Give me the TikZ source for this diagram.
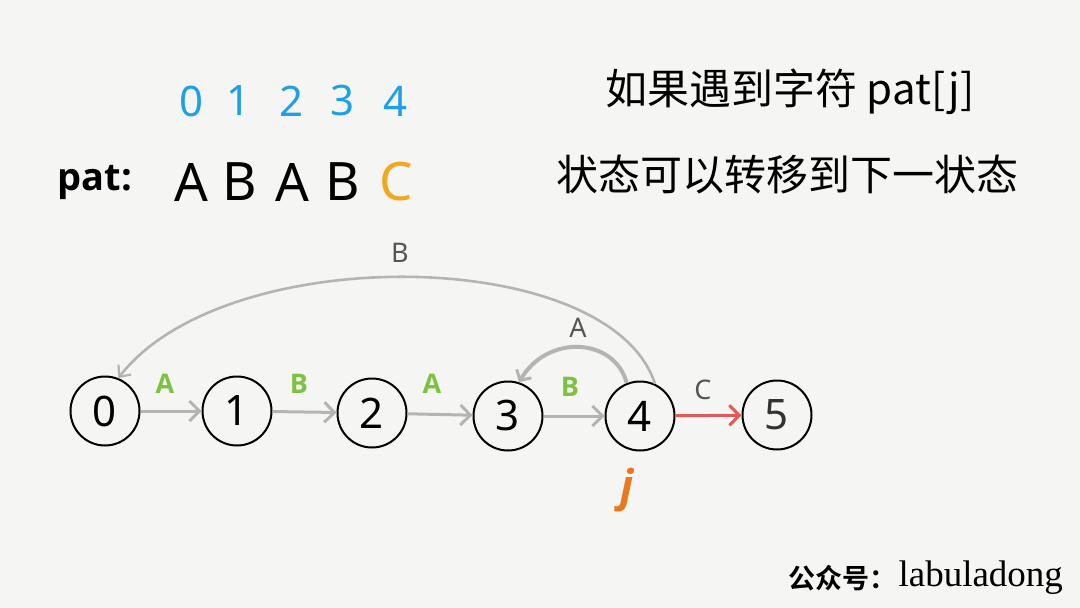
\documentclass[tikz,border=0pt]{standalone}
\usepackage{fontspec}
\setmainfont{Noto Sans}
\newfontfamily\patf{Open Sans}
\newfontfamily\cjk{Noto Sans CJK SC}
\newfontfamily\cjkb{Noto Sans CJK SC Bold}
\newfontfamily\lserif{Liberation Serif}
\usetikzlibrary{arrows.meta}
\definecolor{bg}{RGB}{245,245,243}
\definecolor{idxblue}{RGB}{30,160,232}
\definecolor{corange}{RGB}{240,168,32}
\definecolor{jorange}{RGB}{236,120,30}
\definecolor{lgreen}{RGB}{125,194,66}
\definecolor{agray}{RGB}{180,180,180}
\definecolor{tgray}{RGB}{85,85,85}
\definecolor{ared}{RGB}{224,90,90}
\newcommand{\fsz}[1]{\fontsize{#1}{#1}\selectfont}
\begin{document}
\begin{tikzpicture}[x=1pt,y=-1pt,
  state/.style={circle,draw=black,line width=2pt,minimum size=69pt,inner sep=0pt,font=\fsz{42}},
  edge/.style={draw=agray,line width=3pt,-{Straight Barb[length=10pt,width=20pt,line width=3pt]}},
  glabel/.style={text=lgreen,font=\patf\bfseries\fsz{27}},
  tlabel/.style={text=tgray,font=\fsz{27}},
  idx/.style={text=idxblue,font=\fsz{42}},
  let/.style={text=black,font=\fsz{53}}]
\fill[bg] (0,0) rectangle (1080,608);
\useasboundingbox (0,0) rectangle (1080,608);
% indices
\node[idx] (i0) at (192,101) {0};
\node[idx] (i1) at (239,101) {1};
\node[idx] (i2) at (292,101) {2};
\node[idx] (i3) at (343,101) {3};
\node[idx] (i4) at (396,101) {4};
\node[font=\patf\bfseries\fsz{38}] (pat) at (95,182) {pat:};
\node[let] (c0) at (191,182) {A};
\node[let] (c1) at (240,182) {B};
\node[let] (c2) at (292,182) {A};
\node[let] (c3) at (343,182) {B};
\node[let,text=corange] (c4) at (396,182) {C};
% right text
\node[font=\cjk\fsz{42}] (t1) at (790,92) {如果遇到字符 pat[j]};
\node[font=\cjk\fsz{42}] (t2) at (787,175) {状态可以转移到下一状态};
% states
\node[state] (n0) at (105,411) {0};
\node[state] (n1) at (237,411) {1};
\node[state] (n2) at (372,413) {2};
\node[state] (n3) at (508,416) {3};
\node[state] (n4) at (640,416) {4};
\node[state] (n5) at (777,415) {\textcolor{black!80}{5}};
% forward edges
\draw[edge] (n0) -- (n1);
\draw[edge] (n1) -- (n2);
\draw[edge] (n2) -- (n3);
\draw[edge] (n3) -- (n4);
\draw[edge,draw=ared] (n4) -- (n5);
\node[glabel] (la) at (165,384) {A};
\node[glabel] (lb) at (299,384) {B};
\node[glabel] (lc) at (432,384) {A};
\node[glabel] (ld) at (570,387) {B};
\node[tlabel] (lC) at (703,390) {C};
% back edges
\draw[draw=agray,line width=2.6pt,-{Straight Barb[length=9pt,width=16pt,line width=2.2pt]}]
  (n4.65) .. controls (610,245) and (225,240) .. (n0.68);
\node[tlabel] (lB) at (400,253) {B};
\draw[draw=agray,line width=4pt,-{Straight Barb[length=8pt,width=17pt,line width=3pt]}]
  (n4.112) .. controls (615,338) and (548,333) .. (n3.72);
\node[tlabel] (lA) at (578,328) {A};
% j
\node[text=jorange,font=\patf\bfseries\itshape\fsz{44}] (j) at (627,490) {j};
% footer
\node[anchor=east,font=\cjkb\fsz{27}] (ft1) at (900,578) {公众号：};
\node[anchor=west,font=\lserif\fsz{37}] (ft2) at (895,578) {labuladong};
\end{tikzpicture}
\end{document}
